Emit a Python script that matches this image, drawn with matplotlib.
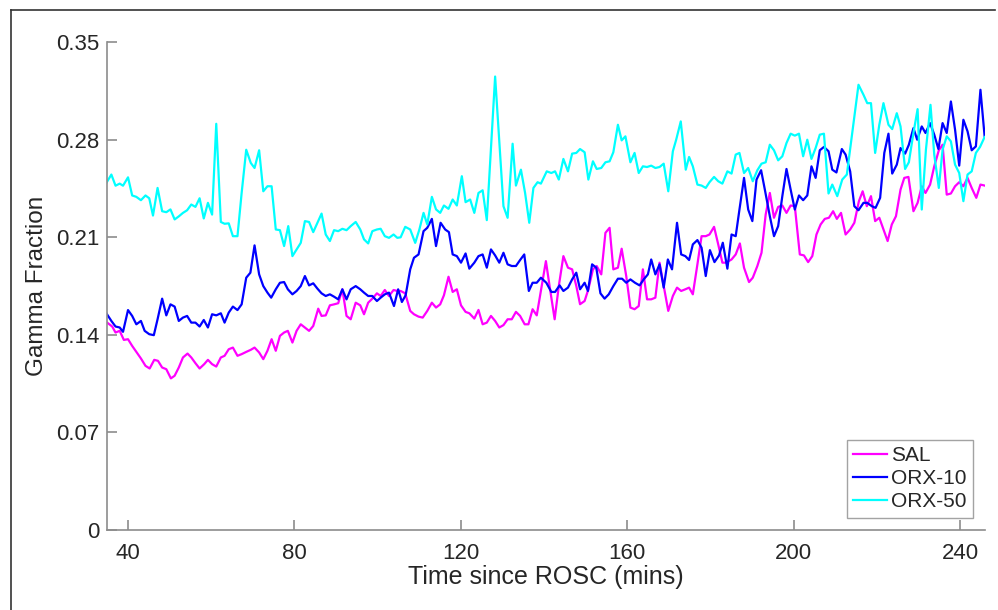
import matplotlib
matplotlib.use('Agg')
import matplotlib.pyplot as plt
from matplotlib.lines import Line2D

plt.rcParams['font.family'] = ['Liberation Sans Narrow', 'Liberation Sans', 'DejaVu Sans']

# SAL
sal_t = [35.1, 36.3, 37.1, 38.1, 39.1, 40.1, 41.1, 42.1, 43.2, 44.3, 45.3, 46.4, 47.3, 48.3, 49.3,
         50.4, 51.3, 52.3, 53.3, 54.4, 55.3, 56.3, 57.3, 58.4, 59.3, 60.3, 61.3, 62.4, 63.3, 64.3,
         65.3, 66.4, 67.4, 68.5, 69.6, 70.5, 71.6, 72.6, 73.6, 74.6, 75.6, 76.6, 77.6, 78.5, 79.6,
         80.6, 81.6, 82.6, 83.6, 84.6, 85.8, 86.6, 87.6, 88.6, 89.6, 90.6, 91.6, 92.6, 93.6, 94.8,
         95.9, 96.8, 97.8, 98.8, 99.9, 100.8, 101.8, 102.8, 103.9, 104.8, 105.6, 106.7, 107.9, 108.8,
         109.9, 110.9, 112.0, 113.1, 114.1, 115.1, 116.0, 117.1, 118.1, 119.1, 120.1, 121.2, 122.1,
         123.3, 124.3, 125.3, 126.3, 127.3, 128.3, 129.3, 130.3, 131.3, 132.3, 133.3, 134.3, 135.4,
         136.3, 137.3, 138.3, 139.3, 140.5, 141.5, 142.6, 143.6, 144.7, 145.8, 146.8, 147.8, 148.7,
         149.8, 150.7, 151.8, 152.7, 153.8, 154.8, 155.8, 156.7, 157.8, 158.7, 159.8, 160.8, 161.8,
         162.8, 163.8, 164.8, 165.8, 166.8, 167.8, 168.8, 169.9, 171.0, 172.0, 173.0, 174.0, 174.9,
         175.8, 176.9, 177.9, 178.9, 179.8, 180.9, 181.9, 182.9, 183.8, 185.1, 186.1, 187.1, 188.1,
         189.3, 190.2, 191.3, 192.3, 193.3, 194.3, 195.3, 196.3, 197.3, 198.3, 199.3, 200.3, 201.5,
         202.5, 203.5, 204.5, 205.5, 206.5, 207.5, 208.5, 209.5, 210.4, 211.4, 212.5, 213.6, 214.6,
         215.7, 216.6, 217.6, 218.6, 219.6, 220.6, 221.6, 222.6, 223.6, 224.6, 225.7, 226.6, 227.6,
         228.8, 229.8, 230.8, 231.7, 232.8, 233.8, 234.9, 235.8, 236.8, 237.8, 238.8, 239.8, 240.8,
         241.8, 242.8, 243.9, 244.9, 245.9]
sal_v = [.1488, .146, .1417, .1429, .1364, .1369, .1321, .1278, .1231, .1178, .1159, .1221, .1214, .1166, .1154,
         .1088, .1107, .1166, .1238, .1266, .1238, .1197, .1159, .119, .1221, .119, .1173, .1238, .125, .1297,
         .1309, .125, .1262, .1278, .1293, .1309, .1274, .1226, .1286, .1369, .1286, .1393, .1417, .1429, .1345,
         .1429, .1476, .1453, .1429, .1464, .1588, .1536, .154, .1612, .1619, .1627, .1727, .1536, .1512, .1631,
         .1612, .1548, .1631, .166, .1698, .1679, .1722, .1679, .1722, .1715, .1715, .1698, .1572, .1548,
         .1531, .1524, .1572, .1631, .1596, .1619, .1684, .1817, .1708, .1727, .1612, .1565, .1555,
         .1517, .1579, .1476, .1488, .1536, .150, .1453, .147, .1512, .1512, .1565, .1536, .1476,
         .1476, .1584, .154, .1715, .1929, .1727, .1512, .1751, .1965, .1882, .187, .1751, .162,
         .1643, .1727, .187, .1894, .1834, .2132, .2168, .187, .1882, .2018, .1822, .1596, .1584,
         .1607, .187, .1655, .1655, .1667, .1918, .1751, .1572, .1679, .1739, .1715, .1727, .1739,
         .1691, .1906, .2108, .2108, .212, .2175, .2049, .1918, .1918, .1941, .1977, .2056, .1882,
         .1779, .181, .1894, .1989, .2263, .2418, .224, .2318, .2328, .2275, .2328, .2323, .1977,
         .197, .1922, .1965, .212, .2192, .2232, .224, .2287, .2232, .2275, .212, .2156, .2204,
         .2359, .243, .2323, .2395, .2216, .224, .2156, .2073, .2192, .2251, .2442, .2526, .2533,
         .2287, .2347, .2466, .2418, .2478, .2609, .2724, .2764, .2406, .2414, .2466, .2495, .2466,
         .2526, .2454, .2383, .2478, .2471]

# ORX-10
orx10_t = [34.9, 36.1, 37.1, 38.1, 38.9, 40.1, 41.1, 42.1, 43.2, 44.1, 45.2, 46.3, 47.2, 48.3, 49.3,
           50.3, 51.3, 52.3, 53.3, 54.3, 55.3, 56.3, 57.3, 58.3, 59.3, 60.3, 61.3, 62.4, 63.3, 64.3,
           65.3, 66.4, 67.4, 68.5, 69.5, 70.5, 71.6, 72.6, 73.6, 74.5, 75.6, 76.6, 77.6, 78.5, 79.6,
           80.6, 81.6, 82.6, 83.6, 84.6, 85.6, 86.6, 87.6, 88.6, 89.6, 90.6, 91.6, 92.6, 93.6, 94.8,
           95.9, 96.8, 97.8, 98.8, 99.9, 100.8, 101.8, 102.8, 104.0, 105.0, 105.9, 106.8, 107.9, 108.8,
           109.9, 111.1, 112.0, 113.1, 114.1, 115.2, 116.3, 117.2, 118.1, 119.1, 120.1, 121.2, 122.1,
           123.3, 124.3, 125.3, 126.3, 127.3, 128.3, 129.3, 130.3, 131.3, 132.3, 133.3, 134.3, 135.3,
           136.4, 137.3, 138.3, 139.3, 140.6, 141.8, 142.7, 143.8, 144.7, 145.8, 146.8, 147.8, 148.7,
           149.8, 150.6, 151.6, 152.6, 153.6, 154.6, 155.6, 156.7, 157.8, 158.8, 159.8, 160.8, 161.9,
           163.0, 164.0, 165.0, 165.8, 166.8, 167.8, 168.8, 169.8, 170.8, 172.0, 173.0, 174.0, 174.9,
           175.8, 176.9, 177.9, 178.9, 179.9, 181.0, 182.1, 183.0, 184.1, 185.1, 186.1, 187.0, 188.1,
           189.1, 190.1, 191.1, 192.2, 193.1, 194.3, 195.3, 196.3, 197.3, 198.3, 199.3, 200.3, 201.3,
           202.3, 203.3, 204.3, 205.3, 206.3, 207.3, 208.4, 209.3, 210.3, 211.6, 212.5, 213.6, 214.6,
           215.6, 216.8, 217.7, 218.8, 219.7, 220.8, 221.8, 222.8, 223.7, 224.8, 225.7, 226.8, 227.7,
           228.8, 229.7, 230.8, 231.7, 232.8, 233.8, 234.8, 235.8, 236.8, 237.8, 238.8, 239.8, 240.8,
           241.8, 242.8, 243.8, 244.9, 245.9]
orx10_v = [.1555, .150, .146, .1453, .1422, .1578, .1536, .1476, .150, .1429, .1405, .1398, .1512, .166, .154,
           .1619, .1603, .150, .1524, .1536, .1488, .1488, .146, .1507, .1453, .1548, .154, .1555, .1488, .156,
           .1603, .1578, .1619, .181, .1846, .2042, .1834, .175, .1703, .1667, .1727, .1774, .1779, .1727, .1691,
           .1715, .175, .1822, .1755, .177, .1732, .1698, .1679, .1691, .1674, .1655, .1727, .1655, .1727, .175,
           .1727, .1703, .1679, .1679, .1643, .1667, .1691, .1703, .1607, .1727, .1636, .1684, .187, .1953,
           .1977, .2144, .2168, .2232, .2037, .2204, .2156, .2137, .1977, .1965, .1918, .1984, .1875,
           .1918, .1965, .1977, .1882, .2013, .197, .1918, .1989, .1906, .1894, .1894, .1937, .1977,
           .1715, .1774, .1774, .181, .1774, .1708, .1708, .1755, .1715, .1739, .1798, .1846, .1727,
           .1774, .1715, .1906, .1882, .1698, .166, .1691, .175, .1803, .1803, .1774, .1798, .1774,
           .1755, .1798, .1834, .1941, .1834, .1906, .1739, .1941, .187, .2204, .1977, .1965, .1937,
           .2049, .208, .2025, .1822, .2008, .1922, .197, .2061, .1875, .212, .2108, .2299, .2526,
           .2299, .2216, .2514, .2581, .2442, .2251, .2108, .218, .2395, .259, .2442, .2299, .240,
           .2366, .240, .2609, .2526, .2724, .2748, .2717, .2585, .2565, .2733, .2693, .2573, .2323,
           .2294, .2347, .2347, .2323, .2311, .2383, .2705, .2843, .2557, .2621, .274, .270, .2764,
           .2883, .280, .2895, .2848, .2919, .2836, .2733, .2919, .2848, .3074, .2872, .2614, .2943,
           .286, .2724, .2752, .3158, .2824]

# ORX-50
orx50_t = [34.9, 36.1, 37.1, 38.1, 38.9, 40.1, 41.1, 42.1, 43.2, 44.3, 45.2, 46.1, 47.2, 48.3, 49.3,
           50.3, 51.3, 52.3, 53.3, 54.3, 55.3, 56.3, 57.3, 58.3, 59.3, 60.3, 61.3, 62.4, 63.3, 64.3,
           65.3, 66.4, 67.4, 68.5, 69.6, 70.5, 71.6, 72.6, 73.6, 74.6, 75.6, 76.6, 77.6, 78.6, 79.6,
           80.6, 81.6, 82.6, 83.6, 84.6, 85.6, 86.6, 87.6, 88.6, 89.6, 90.6, 91.6, 92.6, 93.6, 94.8,
           95.9, 96.8, 97.8, 98.8, 99.9, 100.8, 101.8, 102.8, 103.9, 104.8, 105.6, 106.7, 107.9, 109.1,
           110.1, 111.1, 112.0, 113.1, 114.1, 115.1, 116.0, 117.1, 118.1, 119.1, 120.3, 121.2, 122.3,
           123.3, 124.3, 125.3, 126.3, 128.3, 130.3, 131.3, 132.5, 133.3, 134.5, 135.5, 136.5, 137.5,
           138.5, 139.3, 140.7, 141.8, 142.7, 143.6, 144.7, 145.8, 146.8, 147.8, 148.7, 149.8, 150.7,
           151.8, 152.7, 153.8, 154.8, 155.8, 156.7, 157.8, 158.7, 159.6, 160.8, 161.8, 162.8, 163.8,
           164.8, 165.8, 166.8, 167.8, 168.8, 169.9, 171.0, 171.8, 172.9, 174.1, 174.9, 175.8, 176.9,
           177.9, 178.9, 179.8, 180.9, 181.9, 182.9, 184.1, 185.1, 186.1, 187.0, 188.1, 189.1, 190.2,
           191.3, 192.3, 193.3, 194.3, 195.3, 196.3, 197.3, 198.3, 199.3, 200.3, 201.3, 202.3, 203.3,
           204.3, 205.3, 206.3, 207.3, 208.4, 209.3, 210.5, 211.7, 212.8, 215.6, 216.8, 217.7, 218.6,
           219.6, 220.6, 221.6, 222.8, 223.7, 224.8, 225.7, 226.8, 227.7, 228.8, 229.8, 230.8, 231.8,
           232.9, 233.8, 234.9, 235.8, 236.8, 237.8, 238.8, 239.8, 240.8, 241.8, 242.8, 243.8, 244.8,
           245.9]
orx50_v = [.249, .255, .247, .2485, .247, .253, .240, .239, .2366, .240, .238, .2256, .2454, .2287, .228,
           .230, .2228, .225, .2275, .2294, .2335, .2318, .238, .2235, .2347, .2263, .2914, .221, .2197, .220,
           .2108, .2108, .2418, .2728, .2633, .2597, .2724, .243, .2466, .2466, .2156, .2151, .2037, .218, .1965,
           .2013, .206, .2216, .221, .2137, .2204, .227, .212, .2073, .2151, .2144, .2161, .2151, .218, .221,
           .2156, .2085, .2056, .2144, .2156, .2161, .2108, .2096, .212, .2096, .210, .2175, .2156, .206,
           .2156, .2275, .2192, .239, .230, .2275, .2328, .2304, .2371, .2328, .2538, .2352, .2371,
           .2275, .2418, .2437, .2223, .3253, .2323, .224, .2771, .2471, .2585, .2418, .2204, .2454,
           .2495, .2485, .2573, .2561, .2573, .2514, .2662, .2573, .270, .2705, .2733, .271, .2514,
           .2645, .259, .2597, .2638, .2645, .271, .2907, .2795, .2824, .2638, .2705, .2561, .2609,
           .2604, .2614, .2597, .2604, .2628, .243, .2717, .280, .2931, .2585, .2676, .2609, .2478,
           .2471, .2454, .2495, .2533, .2502, .2485, .2573, .2557, .2693, .2705, .2561, .2597, .2502,
           .2581, .2628, .2638, .2764, .2724, .2652, .2681, .2776, .2843, .2829, .2843, .2681, .280,
           .2662, .274, .2836, .2843, .2414, .2478, .2395, .2514, .255, .3194, .3122, .3062, .3062,
           .2705, .2907, .3062, .2907, .2876, .299, .2895, .259, .2638, .2848, .3019, .2299, .2728,
           .305, .2693, .2454, .2728, .2824, .2788, .2621, .2561, .2359, .255, .2573, .2705, .2748,
           .2819]

xticks = [40, 80, 120, 160, 200, 240]
yticks = [0, 0.07, 0.14, 0.21, 0.28, 0.35]
ytick_labels = ['0', '0.07', '0.14', '0.21', '0.28', '0.35']

axis_grey = '#8c8c8c'
text_col = '#262626'

fig = plt.figure(figsize=(9.98, 6.10), dpi=100)
ax = fig.add_axes([0.107, 0.131, 0.88, 0.8])

ax.plot(sal_t, sal_v, color='#ff00ff', lw=1.6, label='SAL')
ax.plot(orx10_t, orx10_v, color='#0000ff', lw=1.6, label='ORX-10')
ax.plot(orx50_t, orx50_v, color='#00ffff', lw=1.6, label='ORX-50')

ax.set_xlim(35, 246)
ax.set_ylim(0, 0.35)
ax.set_xticks(xticks)
ax.set_yticks(yticks)
ax.set_yticklabels(ytick_labels)

for s in ['top', 'right']:
    ax.spines[s].set_visible(False)
for s in ['left', 'bottom']:
    ax.spines[s].set_color(axis_grey)
    ax.spines[s].set_linewidth(1.2)
ax.tick_params(direction='in', length=7, width=1.2, color=axis_grey,
               labelsize=16, labelcolor=text_col)
ax.tick_params(axis='y', pad=5)
ax.tick_params(axis='x', pad=9)

ax.set_xlabel('Time since ROSC (mins)', fontsize=18, color=text_col, labelpad=1)
ax.set_ylabel('Gamma Fraction', fontsize=17.5, color=text_col, labelpad=6)

leg = ax.legend(loc='lower right', fontsize=15, frameon=True, fancybox=False,
                handlelength=1.6, handletextpad=0.2, borderpad=0.3, labelspacing=0.2,
                borderaxespad=0.6)
leg.get_frame().set_edgecolor(axis_grey)
leg.get_frame().set_linewidth(1.0)
for t in leg.get_texts():
    t.set_color(text_col)

# outer border of the panel
fig.add_artist(Line2D([0.011, 0.011], [0.0, 0.984], transform=fig.transFigure, color='#333333', lw=1.2))
fig.add_artist(Line2D([0.011, 0.997], [0.984, 0.984], transform=fig.transFigure, color='#333333', lw=1.2))

fig.savefig('out.png', dpi=100)
